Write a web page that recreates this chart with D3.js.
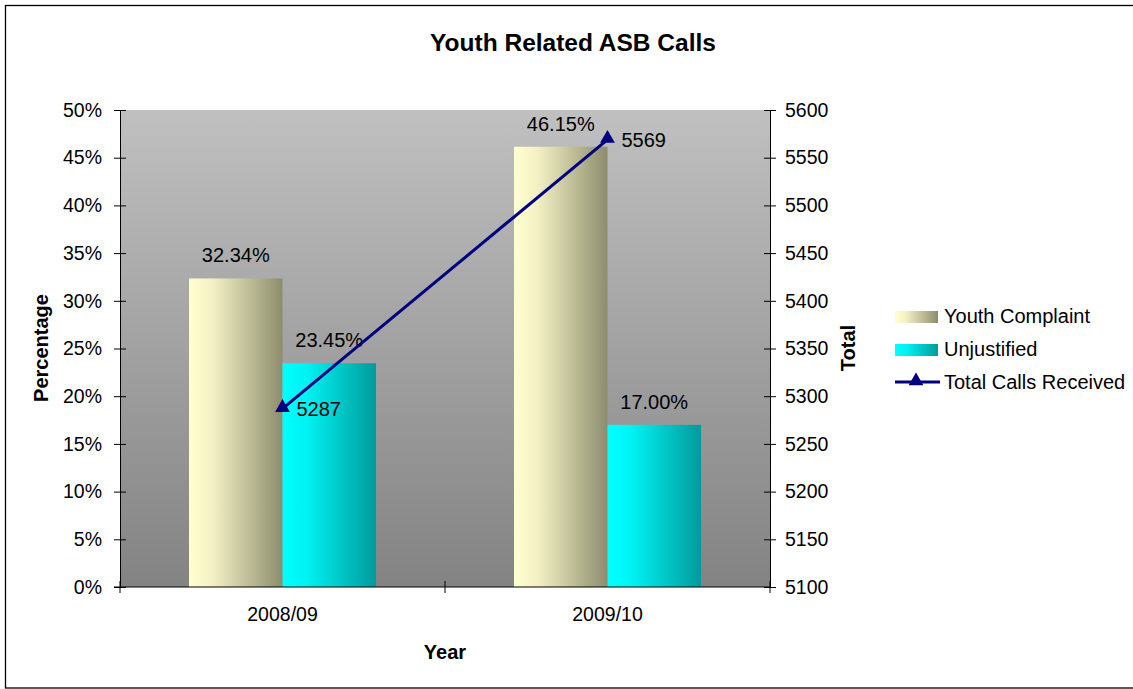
<!DOCTYPE html>
<html>
<head>
<meta charset="utf-8">
<script src="https://cdn.jsdelivr.net/npm/d3@7"></script>
<style>
  body { margin: 0; background: #fff; }
  svg { display: block; font-family: "Liberation Sans", Arial, sans-serif; }
</style>
</head>
<body>
<div id="chart"></div>
<script>
// data
var years = ["2008/09", "2009/10"];
var seriesNames = ["Youth Complaint", "Unjustified"];
var youthComplaint = [0.3234, 0.4615];
var unjustified = [0.2345, 0.17];
var totalCalls = [5287, 5569];
var lineName = "Total Calls Received";

var W = 1133, H = 689;
var plot = {left: 120, top: 110, right: 770, bottom: 587};

var svg = d3.select('#chart').append('svg')
  .attr('width', W).attr('height', H);

var defs = svg.append('defs');

function linGrad(id, x2, y2, stops) {
  var g = defs.append('linearGradient').attr('id', id)
    .attr('x1', 0).attr('y1', 0).attr('x2', x2).attr('y2', y2);
  stops.forEach(function(s) {
    g.append('stop').attr('offset', s[0]).attr('stop-color', s[1]);
  });
}
linGrad('bg', 0, 1, [[0, '#c0c0c0'], [1, '#838383']]);
linGrad('g0', 1, 0, [[0, '#ffffcf'], [0.25, '#f3f1c4'], [1, '#8d8d6e']]);
linGrad('g1', 1, 0, [[0, '#00ffff'], [0.25, '#00f3f3'], [1, '#009b9b']]);
var fills = ['url(#g0)', 'url(#g1)'];

// outer frame
svg.append('rect')
  .attr('x', 5.5).attr('y', 5.5).attr('width', W).attr('height', H - 6.5)
  .attr('fill', 'none').attr('stroke', '#000').attr('stroke-width', 1.3);

// scales
var x = d3.scaleBand().domain(years).range([plot.left, plot.right]);
var xs = d3.scaleBand().domain(d3.range(seriesNames.length))
  .range([0, x.bandwidth()]).paddingOuter(0.738).paddingInner(0);
var yL = d3.scaleLinear().domain([0, 0.5]).range([plot.bottom, plot.top]);
var yR = d3.scaleLinear().domain([5100, 5600]).range([plot.bottom, plot.top]);

// plot area
svg.append('rect')
  .attr('x', plot.left).attr('y', plot.top)
  .attr('width', plot.right - plot.left).attr('height', plot.bottom - plot.top)
  .attr('fill', 'url(#bg)');

// bars
var values = [youthComplaint, unjustified];
var bars = [];
years.forEach(function(yr, i) {
  values.forEach(function(v, s) {
    bars.push({year: yr, s: s, v: v[i]});
  });
});

svg.append('g').selectAll('rect')
  .data(bars)
  .join('rect')
  .attr('x', d => x(d.year) + xs(d.s))
  .attr('y', d => yL(d.v))
  .attr('width', xs.bandwidth())
  .attr('height', d => yL(0) - yL(d.v))
  .attr('fill', d => fills[d.s]);

svg.append('g').selectAll('text')
  .data(bars)
  .join('text')
  .attr('x', d => x(d.year) + xs(d.s) + xs.bandwidth() / 2)
  .attr('y', d => yL(d.v) - 16)
  .attr('text-anchor', 'middle')
  .attr('font-size', 20)
  .text(d => (d.v * 100).toFixed(2) + '%');

// axes
function crossTicks(g, size) {
  g.selectAll('.tick line').attr('x1', -size).attr('x2', size).attr('stroke', '#000');
  g.select('.domain').attr('stroke', '#000');
  g.selectAll('.tick text').attr('font-size', 19.5).attr('fill', '#000');
}

var axL = svg.append('g')
  .attr('transform', 'translate(' + plot.left + ',0)')
  .call(d3.axisLeft(yL).ticks(10).tickFormat(d3.format('.0%')).tickSize(6).tickPadding(12).tickSizeOuter(0))
  .attr('font-family', null);
crossTicks(axL, 6);

var axR = svg.append('g')
  .attr('transform', 'translate(' + plot.right + ',0)')
  .call(d3.axisRight(yR).ticks(10).tickFormat(d3.format('d')).tickSize(6).tickPadding(9).tickSizeOuter(0))
  .attr('font-family', null);
crossTicks(axR, 6);

var axB = svg.append('g')
  .attr('transform', 'translate(0,' + plot.bottom + ')')
  .call(d3.axisBottom(x).tickSize(0).tickPadding(20).tickSizeOuter(0))
  .attr('font-family', null);
axB.select('.domain').attr('stroke', '#000').attr('d', 'M' + (plot.left - 6) + ',0H' + plot.right);
axB.selectAll('.tick text').attr('font-size', 19.5).attr('fill', '#000');
axB.selectAll('.bnd')
  .data(d3.range(years.length + 1))
  .join('line')
  .attr('x1', d => plot.left + d * x.step())
  .attr('x2', d => plot.left + d * x.step())
  .attr('y1', -6).attr('y2', 6)
  .attr('stroke', '#000');

// line series on the right axis
var pts = years.map((yr, i) => ({year: yr, v: totalCalls[i]}));
var cx = d => x(d.year) + x.bandwidth() / 2;

svg.append('path')
  .datum(pts)
  .attr('fill', 'none')
  .attr('stroke', '#000080')
  .attr('stroke-width', 3)
  .attr('d', d3.line().x(cx).y(d => yR(d.v)));

var tri = d3.symbol().type(d3.symbolTriangle).size(95);
svg.append('g').selectAll('path')
  .data(pts)
  .join('path')
  .attr('transform', d => 'translate(' + cx(d) + ',' + (yR(d.v) - 1) + ')')
  .attr('d', tri)
  .attr('fill', '#000080');

svg.append('g').selectAll('text')
  .data(pts)
  .join('text')
  .attr('x', d => cx(d) + 14)
  .attr('y', d => yR(d.v) + 7)
  .attr('font-size', 20)
  .text(d => d.v);

// titles
svg.append('text')
  .attr('x', 573).attr('y', 51)
  .attr('text-anchor', 'middle')
  .attr('font-size', 24.5).attr('font-weight', 'bold')
  .text('Youth Related ASB Calls');

svg.append('text')
  .attr('transform', 'translate(48,348) rotate(-90)')
  .attr('text-anchor', 'middle')
  .attr('font-size', 20).attr('font-weight', 'bold')
  .text('Percentage');

svg.append('text')
  .attr('transform', 'translate(855,348) rotate(-90)')
  .attr('text-anchor', 'middle')
  .attr('font-size', 20).attr('font-weight', 'bold')
  .text('Total');

svg.append('text')
  .attr('x', 445).attr('y', 659)
  .attr('text-anchor', 'middle')
  .attr('font-size', 20).attr('font-weight', 'bold')
  .text('Year');

// legend
var lg = svg.append('g').attr('transform', 'translate(895,316)');
seriesNames.forEach(function(n, i) {
  var row = lg.append('g').attr('transform', 'translate(0,' + i * 33 + ')');
  row.append('rect').attr('x', 0).attr('y', -5).attr('width', 43).attr('height', 12).attr('fill', fills[i]);
  row.append('text').attr('x', 49).attr('y', 7).attr('font-size', 20).text(n);
});
var lrow = lg.append('g').attr('transform', 'translate(0,66)');
lrow.append('line').attr('x1', 0).attr('x2', 45).attr('y1', 0).attr('y2', 0)
  .attr('stroke', '#000080').attr('stroke-width', 3);
lrow.append('path').attr('transform', 'translate(21,-1)').attr('d', tri).attr('fill', '#000080');
lrow.append('text').attr('x', 49).attr('y', 7).attr('font-size', 20).text(lineName);
</script>
</body>
</html>
